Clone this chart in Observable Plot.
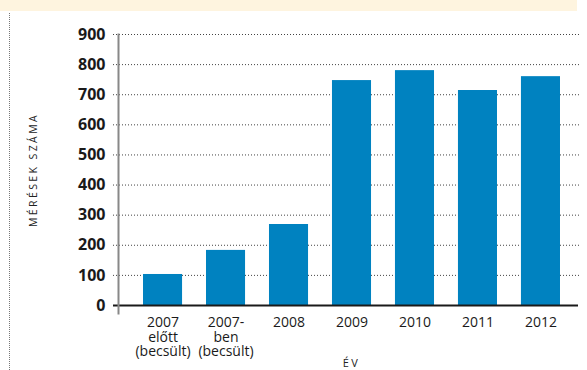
<!DOCTYPE html>
<html>
<head>
<meta charset="utf-8">
<script src="https://cdn.jsdelivr.net/npm/d3@7"></script>
<script src="https://cdn.jsdelivr.net/npm/@observablehq/plot@0.6"></script>
<style>
  html, body { margin: 0; padding: 0; background: #fff; }
  #wrap { position: relative; width: 587px; height: 370px; font-family: "Open Sans", sans-serif; }
  #band { position: absolute; left: 0; top: 0; width: 577px; height: 11px; background: #fef4df; }
  #edge { position: absolute; left: 9px; top: 13px; height: 357px; border-left: 1px dotted #777; }
  #chart { position: absolute; left: 0; top: 0; }
  .spaced { letter-spacing: 2.4px; }
</style>
</head>
<body>
<div id="wrap">
  <div id="band"></div>
  <div id="edge"></div>
  <div id="chart"></div>
</div>
<script>
// Number of measurements per year
const years = [
  "2007\nelőtt\n(becsült)",
  "2007-\nben\n(becsült)",
  "2008",
  "2009",
  "2010",
  "2011",
  "2012"
];
const counts = [103, 183, 269, 747, 780, 714, 760];
const yTicks = [0, 100, 200, 300, 400, 500, 600, 700, 800, 900];
const gridTicks = yTicks.filter(d => d > 0);
const xTitle = "ÉV";
const yTitle = "MÉRÉSEK SZÁMA";

const data = years.map((year, i) => ({year, count: counts[i]}));

const chart = Plot.plot({
  width: 587,
  height: 370,
  marginTop: 34,
  marginBottom: 65,
  marginLeft: 118,
  marginRight: 9,
  style: {background: "transparent", fontFamily: "Open Sans, sans-serif", color: "#1a1a1a"},
  x: {domain: years, range: [118, 585], paddingInner: 0.38, paddingOuter: 0.397, round: false, label: null},
  y: {domain: [0, 900], label: null},
  marks: [
    Plot.ruleY(gridTicks, {stroke: "#444", strokeWidth: 1, strokeDasharray: "1,2", insetLeft: -5, insetRight: -2}),
    Plot.barY(data, {x: "year", y: "count", fill: "#0082c0"}),
    Plot.ruleY([0], {stroke: "#1a1a1a", strokeWidth: 2, insetLeft: -5}),
    Plot.frame({anchor: "left", stroke: "#888", strokeWidth: 2, insetBottom: -8}),
    Plot.axisY({ticks: yTicks, tickSize: 0, tickPadding: 13, fontSize: 16, fontWeight: "bold", label: null}),
    Plot.axisX({tickSize: 0, tickPadding: 11, fontSize: 14, lineHeight: 1.05, label: null}),
    Plot.text([yTitle], {frameAnchor: "left", textAnchor: "middle", rotate: -90, dx: -85, fontSize: 10.5, fill: "#222", className: "spaced"}),
    Plot.text([xTitle], {frameAnchor: "bottom", textAnchor: "middle", dy: 61, dx: 3, fontSize: 11, fill: "#222", className: "spaced"})
  ]
});

document.getElementById("chart").appendChild(chart);
</script>
</body>
</html>
